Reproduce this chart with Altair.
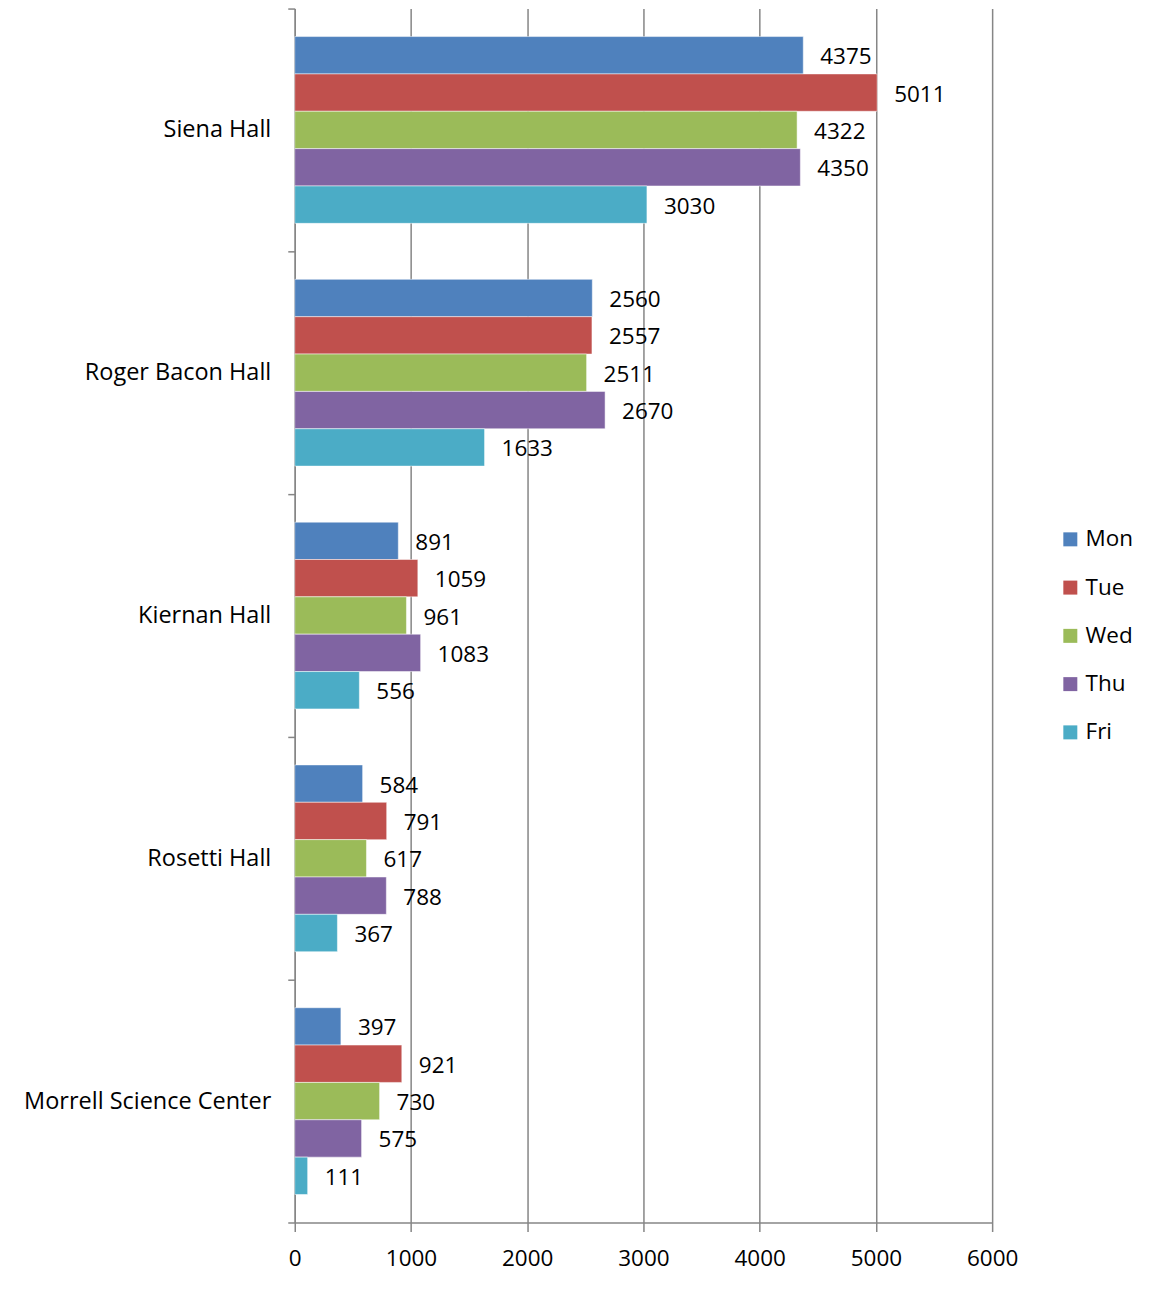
import altair as alt
import pandas as pd

halls = ["Siena Hall", "Roger Bacon Hall", "Kiernan Hall", "Rosetti Hall", "Morrell Science Center"]
days = ["Mon", "Tue", "Wed", "Thu", "Fri"]
mon = [4375, 2560, 891, 584, 397]
tue = [5011, 2557, 1059, 791, 921]
wed = [4322, 2511, 961, 617, 730]
thu = [4350, 2670, 1083, 788, 575]
fri = [3030, 1633, 556, 367, 111]
colors = ["#4F81BD", "#C0504D", "#9BBB59", "#8064A2", "#4BACC6"]

series = {"Mon": mon, "Tue": tue, "Wed": wed, "Thu": thu, "Fri": fri}
rows = []
for d in days:
    for h, v in zip(halls, series[d]):
        rows.append({"hall": h, "day": d, "value": v})
df = pd.DataFrame(rows)

FONT = "Open Sans"
FS = 22.5
GRID = "#868686"

y = alt.Y("hall:N", sort=halls, title=None,
          scale=alt.Scale(paddingInner=0, paddingOuter=0),
          axis=alt.Axis(tickBand="extent", domainColor=GRID, tickColor=GRID,
                        tickSize=7, domainWidth=1.5, tickWidth=1.5,
                        labelFont=FONT, labelFontSize=23.5, labelColor="#000000",
                        labelPadding=17, labelLimit=400))
yoff = alt.YOffset("day:N", sort=days, scale=alt.Scale(paddingInner=0, paddingOuter=0.75))
x = alt.X("value:Q", title=None,
          scale=alt.Scale(domain=[0, 6000], nice=False),
          axis=alt.Axis(values=[0, 1000, 2000, 3000, 4000, 5000, 6000],
                        format="d", labelFlush=False,
                        grid=True, gridColor=GRID, gridWidth=1.5,
                        domainColor=GRID, domainWidth=1.5, tickColor=GRID,
                        tickWidth=1.5, tickSize=9, labelFont=FONT,
                        labelFontSize=FS, labelColor="#000000", labelPadding=16))

base = alt.Chart(df)

bars = base.mark_bar(stroke="white", strokeWidth=0.5).encode(
    y=y, yOffset=yoff, x=x,
    color=alt.Color("day:N", sort=days, title=None,
                    scale=alt.Scale(domain=days, range=colors),
                    legend=alt.Legend(orient="none", legendX=765, legendY=520,
                                      symbolType="square", symbolSize=196,
                                      symbolStrokeWidth=0, labelFont=FONT,
                                      labelFontSize=FS, labelColor="#000000",
                                      labelOffset=4, rowPadding=25.3)),
)

labels = base.mark_text(align="left", baseline="middle", dx=17, dy=2, font=FONT,
                        fontSize=FS, color="#000000").encode(
    y=y, yOffset=yoff, x=x, text=alt.Text("value:Q", format="d"),
)

chart = alt.layer(bars, labels).properties(
    width=698, height=1215,
    autosize=alt.AutoSizeParams(type="none"),
    padding={"left": 287, "top": 0, "right": 160, "bottom": 60},
).configure_view(stroke=None)

chart.save("out.html", embed_options={"renderer": "svg", "actions": False})
